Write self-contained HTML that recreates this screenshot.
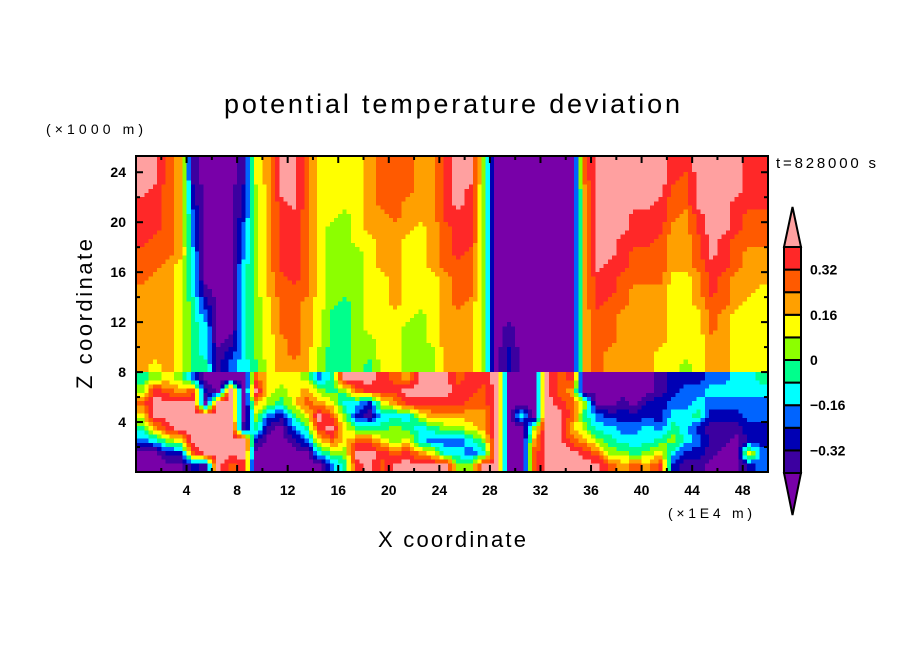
<!DOCTYPE html>
<html><head><meta charset="utf-8"><style>
html,body{margin:0;padding:0;background:#fff;}
svg{display:block;font-family:"Liberation Sans",sans-serif;}
</style></head><body>
<svg id="chart" width="904" height="654" viewBox="0 0 904 654">
<rect x="0" y="0" width="904" height="654" fill="#fff"/>
<text x="452" y="113" text-anchor="middle" font-size="27" textLength="456" lengthAdjust="spacing">potential temperature deviation</text>
<text x="46" y="134" font-size="14" textLength="97">(×1000 m)</text>
<text x="776" y="168" font-size="15" textLength="100">t=828000 s</text>
<text x="668" y="518" font-size="14" textLength="84">(×1E4 m)</text>
<text x="452" y="547" text-anchor="middle" font-size="22" textLength="148">X coordinate</text>
<text transform="translate(92,314) rotate(-90)" text-anchor="middle" font-size="22" textLength="150">Z coordinate</text>
<g id="cells"></g>
<g id="axes"></g>
<g id="cbar"></g>
</svg>
<script>
// level codes per column (x = 0..49), top (z≈25) to bottom (z=0); 0..b = levels
const columns = [
"bbbaaaa9998888888"+"56975300",
"bbaaaa99988888887"+"6abb8400",
"99999999888888888"+"79bba620",
"88888888777777777"+"68bbb720",
"11223334444555555"+"39bbbb92",
"00000000001234445"+"020bbbb1",
"00000000000000011"+"00bbbbbb",
"00000000000000123"+"0bbbbbb9",
"11222333444444444"+"00001bba",
"77666666666666665"+"9b865200",
"88888888888777777"+"77631000",
"bbbaaaaaa99999888"+"76520000",
"bbbbaaaaaa9999998"+"77753100",
"99999999999888888"+"68975300",
"77777777777777766"+"368ba740",
"77777666666655555"+"5579b963",
"77776666666555555"+"b6467765",
"77777776666666666"+"b94259ba",
"88888877777777665"+"ba2159bb",
"99998888877777777"+"aa7457a9",
"99999888888877777"+"9a84669b",
"99988877777776666"+"8ba457ab",
"88888777777766666"+"bba7448b",
"88888888877777766"+"bba8537b",
"aaaaa999988888888"+"bba8634b",
"bbbbaaaa999988888"+"9aa86346",
"bbaaaaa9999888888"+"aa987436",
"66666666666666666"+"a998864b",
"00000000000000000"+"bbbbbbbb",
"00000000000001122"+"00000000",
"00000000000000000"+"00040000",
"00000000000000000"+"00006899",
"00000000000000000"+"bbbbbbbb",
"00000000000000000"+"99abbbbb",
"00000000000000000"+"a89989bb",
"99888888888888888"+"006568ab",
"bbbbbbbbbaaa99999"+"0003469b",
"bbbbbbbbaaa999988"+"00024569",
"bbbbbbaaa99988888"+"00123468",
"bbbbaaa9998888888"+"00023459",
"bbbbaaa9998888888"+"00224468",
"bbbaaa99998888877"+"1122357a",
"aa999888877777777"+"22345642",
"a9998888877777776"+"23344421",
"bbbbaa99988877777"+"23452321",
"bbbbbbbbaaa999888"+"34321110",
"bbbbbbaaa99988888"+"34321100",
"bbbaaa99988877777"+"44321000",
"aaaa9998888777777"+"44332272",
"aaaa9998887777777"+"54332233"
];
const levelValues = [-0.4,-0.32,-0.24,-0.16,-0.08,0,0.08,0.16,0.24,0.32,0.4];
const cbarLabels = ["0.32","0.16","0","−0.16","−0.32"];
const cbarLabelValues = [0.32,0.16,0,-0.16,-0.32];
const xTicks = [4,8,12,16,20,24,28,32,36,40,44,48];
const yTicks = [4,8,12,16,20,24];
const colors = ["#7800a8","#3c00a0","#0000b4","#0064ff","#00ffff","#00ff8c","#8cff00","#ffff00","#ffa000","#ff5a00","#ff2828","#ffa0a0"];

const NS="http://www.w3.org/2000/svg";
const X0=136,X1=768,Y0=472,Y1=156,XMAX=50,ZMAX=25.3;
const sx=x=>X0+(x/XMAX)*(X1-X0);
const sz=z=>Y0-(z/ZMAX)*(Y0-Y1);
function mk(tag,attrs,parent){const e=document.createElementNS(NS,tag);for(const k in attrs)e.setAttribute(k,attrs[k]);parent.appendChild(e);return e;}
function levelOf(v){let i=0;while(i<levelValues.length&&v>=levelValues[i])i++;return i;}

const NR=25, NC=columns.length, SPLIT=17;
const val=(c,r,lo,hi)=>{c=Math.max(0,Math.min(NC-1,c));r=Math.max(lo,Math.min(hi,r));return (parseInt(columns[c][r],12)-5.5)*0.08;};
// bilinear between cell centers, no blending across the z=8 discontinuity
function field(x,z,row){
  const lo=row<SPLIT?0:SPLIT, hi=row<SPLIT?SPLIT-1:NR-1;
  const fc=x-0.5, fr=24.5-z;
  const c0=Math.floor(fc), r0=Math.floor(fr), tx=fc-c0, ty=fr-r0;
  const a=val(c0,r0,lo,hi),b=val(c0+1,r0,lo,hi),c=val(c0,r0+1,lo,hi),d=val(c0+1,r0+1,lo,hi);
  return a*(1-tx)*(1-ty)+b*tx*(1-ty)+c*(1-tx)*ty+d*tx*ty;
}
const cells=document.getElementById('cells');
const SUB=3;
for(let ci=0;ci<NC;ci++){
  for(let r=0;r<NR;r++){
    const zt=r===0?ZMAX:25-r, zb=24-r;
    for(let i=0;i<SUB;i++){
      for(let j=0;j<SUB;j++){
        const xa=ci+i/SUB, xb=ci+(i+1)/SUB;
        const za=zt-(zt-zb)*j/SUB, zb2=zt-(zt-zb)*(j+1)/SUB;
        const v=field((xa+xb)/2,(za+zb2)/2,r);
        const x=sx(xa), w=sx(xb)-x, y=sz(za), h=sz(zb2)-y;
        const el=mk('rect',{x:x.toFixed(2),y:y.toFixed(2),width:(w+0.5).toFixed(2),height:(h+0.5).toFixed(2),fill:colors[levelOf(v)],'shape-rendering':'crispEdges'},cells);
        
        
      }
    }
  }
}

const axes=document.getElementById('axes');
const frame=mk('rect',{x:X0,y:Y1,width:X1-X0,height:Y0-Y1,fill:'none',stroke:'#000','stroke-width':2},axes);


for(let x=2;x<XMAX;x+=2){
  const major=x%4===0, L=major?7:4, px=sx(x);
  const t1=mk('line',{x1:px,x2:px,y1:Y0,y2:Y0-L,stroke:'#000','stroke-width':2},axes);
  
  
  const t2=mk('line',{x1:px,x2:px,y1:Y1,y2:Y1+L,stroke:'#000','stroke-width':2},axes);
  
  
}
xTicks.forEach(x=>{
  const t=mk('text',{x:sx(x),y:Y0+23,'text-anchor':'middle','font-size':14,'font-weight':'bold'},axes);
  t.textContent=String(x);
  
  
});
for(let z=2;z<ZMAX;z+=2){
  const major=z%4===0, L=major?7:4, py=sz(z);
  const t1=mk('line',{x1:X0,x2:X0+L,y1:py,y2:py,stroke:'#000','stroke-width':2},axes);
  
  
  const t2=mk('line',{x1:X1,x2:X1-L,y1:py,y2:py,stroke:'#000','stroke-width':2},axes);
  
  
}
yTicks.forEach(z=>{
  const t=mk('text',{x:X0-10,y:sz(z)+5,'text-anchor':'end','font-size':14,'font-weight':'bold'},axes);
  t.textContent=String(z);
  
  
});

// colorbar
const cb=document.getElementById('cbar');
const CX0=784,CX1=801,CT=247,CB=473,n=10,seg=(CB-CT)/n;
const cv=v=>CB-((v-levelValues[0])/(levelValues[10]-levelValues[0]))*(CB-CT);
const tri1=mk('polygon',{points:`${CX0},${CT} ${(CX0+CX1)/2},207 ${CX1},${CT}`,fill:colors[11],stroke:'#000','stroke-width':2},cb);


const tri2=mk('polygon',{points:`${CX0},${CB} ${(CX0+CX1)/2},515 ${CX1},${CB}`,fill:colors[0],stroke:'#000','stroke-width':2},cb);


for(let i=0;i<n;i++){
  const y=cv(levelValues[i+1]);
  const r=mk('rect',{x:CX0,y:y,width:CX1-CX0,height:seg,fill:colors[i+1],stroke:'#000','stroke-width':2},cb);
  
  
}
cbarLabelValues.forEach((v,i)=>{
  const t=mk('text',{x:810,y:cv(v)+5,'font-size':14,'font-weight':'bold'},cb);
  t.textContent=cbarLabels[i];
  
  
});
</script>
</body></html>
